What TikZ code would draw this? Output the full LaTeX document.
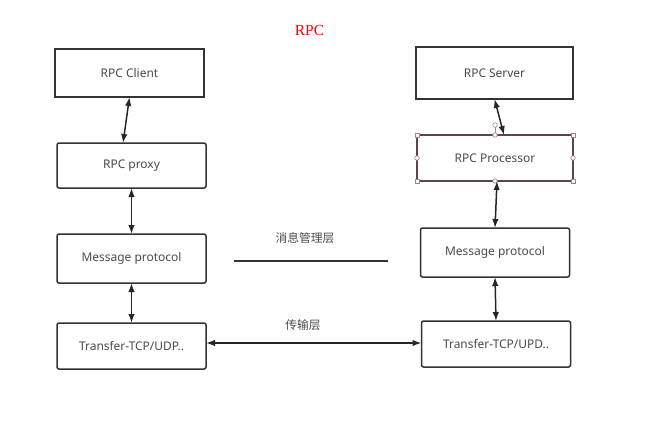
\documentclass[tikz,border=0pt]{standalone}
\usepackage{fontspec}
\setmainfont{Noto Sans}
\newfontfamily\cjkfont{Noto Sans CJK SC}
\newfontfamily\titlefont{Liberation Serif}
\usetikzlibrary{arrows.meta,calc}
\definecolor{boxline}{HTML}{333333}
\definecolor{txt}{HTML}{4A4A4A}
\definecolor{selline}{HTML}{5A4848}
\definecolor{handle}{HTML}{C07878}
\tikzset{
  layerbox/.style={draw=boxline, line width=1.5bp, rounded corners=2bp, fill=white,
    minimum width=149bp, minimum height=47bp, inner sep=0pt, outer sep=0pt,
    text=txt, font=\fontsize{12}{14}\selectfont},
  link/.style={draw=black!85, line width=1.5bp, {Latex[length=9bp,width=6.5bp]}-{Latex[length=9bp,width=6.5bp]}},
  lbl/.style={text=txt, font=\cjkfont\fontsize{11.8}{14}\selectfont, inner sep=0pt},
  hsq/.style={draw=handle, fill=white, line width=0.6bp, minimum size=4bp, inner sep=0pt},
  hci/.style={draw=handle, fill=white, line width=0.6bp, circle, minimum size=4.5bp, inner sep=0pt},
}
\begin{document}
\begin{tikzpicture}[x=1bp,y=-1bp]
\useasboundingbox (0,0) rectangle (661,423);
% title
\node[text=red, font=\titlefont\fontsize{15.5}{17}\selectfont] (title) at (309.5,30) {RPC};
% left column
\node[layerbox, rounded corners=0pt, minimum width=149bp, minimum height=48bp] (client) at (129.5,73) {RPC Client};
\node[layerbox, minimum height=45bp] (proxy) at (131.5,165.5) {RPC proxy};
\node[layerbox, minimum height=49bp] (msgL) at (131.5,258.5) {Message protocol};
\node[layerbox, minimum height=46bp] (tcpL) at (131.5,346) {Transfer-TCP/UDP..};
% right column
\node[layerbox, rounded corners=0pt, minimum width=157bp, minimum height=52bp] (server) at (494.5,73) {RPC Server};
\node[layerbox, draw=selline, rounded corners=0pt, minimum width=156bp, minimum height=46bp] (proc) at (495,158) {RPC Processor};
\node[layerbox, minimum height=49bp] (msgR) at (495,252.5) {Message protocol};
\node[layerbox, minimum height=46bp] (tcpR) at (496,344) {Transfer-TCP/UPD..};
% selection handles
\coordinate (rot) at ($(proc.north)+(0,-10)$);
\draw[draw=handle, line width=0.6bp] (proc.north) -- (rot);
\node[hci] (hrot) at (rot) {};
\foreach \a in {north west,north east,south west,south east}{\node[hsq] at (proc.\a) {};}
\foreach \a in {north,south,east,west}{\node[hci] at (proc.\a) {};}
% connectors
\draw[link] (client.south) -- ($(proxy.north)+(-8.5,0)$);
\draw[link] (proxy.south) -- (msgL.north);
\draw[link] (msgL.south) -- (tcpL.north);
\draw[link] (server.south) -- ($(proc.north)+(9,0)$);
\draw[link] ($(proc.south)+(2,0)$) -- (msgR.north);
\draw[link] (msgR.south) -- (tcpR.north);
\draw[link] ($(tcpL.east)+(0,-3)$) -- ($(tcpR.west)+(0,-1)$);
% layer labels
\coordinate (lineA) at (234,261);
\coordinate (lineB) at (388,261);
\draw[draw=black!80, line width=1.5bp] (lineA) -- (lineB);
\node[lbl] (msglayer) at (305,238) {消息管理层};
\node[lbl] (tcplayer) at (303,325) {传输层};
\end{tikzpicture}
\end{document}
